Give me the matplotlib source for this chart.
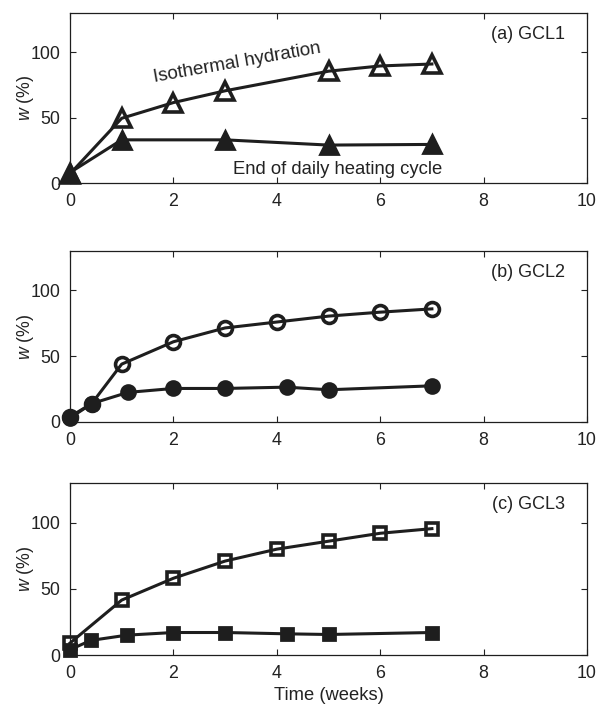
import matplotlib
matplotlib.use("Agg")
import matplotlib.pyplot as plt

plt.rcParams['font.family'] = ['Liberation Sans', 'DejaVu Sans']
plt.rcParams['mathtext.fontset'] = 'custom'
plt.rcParams['mathtext.it'] = 'Liberation Sans:italic'
plt.rcParams['mathtext.rm'] = 'Liberation Sans'

# (a) GCL1
a_iso_t = [0, 1, 2, 3, 5, 6, 7]
a_iso_w = [7, 49.5, 61.5, 70.5, 85.5, 89.5, 91]
a_heat_t = [0, 1, 3, 5, 7]
a_heat_w = [8, 33, 33, 29, 29.5]
# (b) GCL2
b_iso_t = [0, 0.42, 1, 2, 3, 4, 5, 6, 7]
b_iso_w = [4, 14, 44, 61, 71.5, 76, 80.5, 83.5, 86]
b_heat_t = [0, 0.42, 1.12, 2, 3, 4.19, 5, 7]
b_heat_w = [3, 14, 22.5, 25.5, 25.5, 26.5, 24.5, 27.5]
# (c) GCL3
c_iso_t = [0, 1, 2, 3, 4, 5, 6, 7]
c_iso_w = [9, 41.5, 58, 71, 80, 86, 92, 95.5]
c_heat_t = [0, 0.4, 1.1, 2, 3, 4.2, 5, 7]
c_heat_w = [4, 11, 15, 17, 17, 16, 15.5, 17]

panels = [
    ("(a) GCL1", "^", 13.5, a_iso_t, a_iso_w, a_heat_t, a_heat_w),
    ("(b) GCL2", "o", 10, b_iso_t, b_iso_w, b_heat_t, b_heat_w),
    ("(c) GCL3", "s", 8.5, c_iso_t, c_iso_w, c_heat_t, c_heat_w),
]

fig = plt.figure(figsize=(5.99, 7.06), dpi=100)
W, H = 599, 706
boxes = [(13, 183), (251, 422), (483, 655)]
L, R = 70, 587
ink = '#1e1e1e'
txt = '#222222'

for (lab, mk, ms, it, iw, ht, hw), (top, bot) in zip(panels, boxes):
    ax = fig.add_axes([L / W, 1 - bot / H, (R - L) / W, (bot - top) / H])
    ax.plot(it, iw, color=ink, lw=2.2, marker=mk, ms=ms,
            mfc='none', mec=ink, mew=2.6, clip_on=False, zorder=3)
    ax.plot(ht, hw, color=ink, lw=2.2, marker=mk, ms=ms,
            mfc=ink, mec=ink, mew=2.0, clip_on=False, zorder=4)
    ax.set_xlim(0, 10)
    ax.set_ylim(0, 130)
    ax.set_xticks([0, 2, 4, 6, 8, 10])
    ax.set_yticks([0, 50, 100])
    ax.tick_params(direction='in', top=True, right=True, length=4.5,
                   labelsize=12.8, colors=txt, width=0.8)
    ax.tick_params(axis='x', pad=7)
    ax.tick_params(axis='y', pad=7)
    for s in ax.spines.values():
        s.set_linewidth(0.9)
        s.set_color(ink)
    ax.set_ylabel(r'$\it{w}$ (%)', fontsize=12.8, color=txt, labelpad=-4)
    ax.text(9.57, 113.5, lab, ha='right', va='center', fontsize=13,
            color=txt)
    if lab.startswith("(a)"):
        ax.text(3.23, 92, "Isothermal hydration", rotation=10,
                rotation_mode='anchor', ha='center', va='center',
                fontsize=13.5, color=txt)
        ax.text(5.17, 10, "End of daily heating cycle", ha='center',
                va='center', fontsize=13.3, color=txt)
    if lab.startswith("(c)"):
        ax.set_xlabel("Time (weeks)", fontsize=13.2, color=txt,
                      labelpad=4)

fig.savefig("out.png", dpi=100)
